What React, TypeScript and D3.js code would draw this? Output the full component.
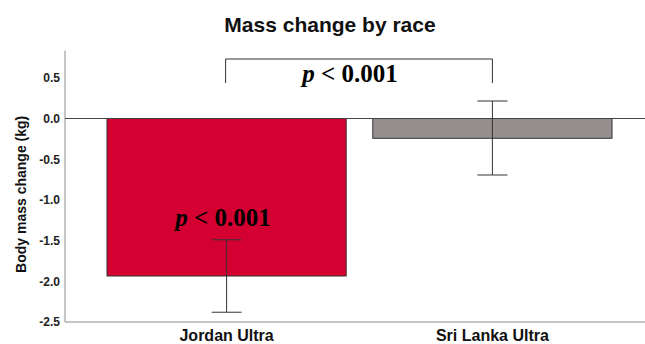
import * as d3 from "d3";
import { useEffect, useRef } from "react";

const races = ["Jordan Ultra", "Sri Lanka Ultra"];
const meanChange = [-1.935, -0.243];
const errUpper = [-1.49, 0.215];
const errLower = [-2.38, -0.694];
const yTicks = [0.5, 0.0, -0.5, -1.0, -1.5, -2.0, -2.5];
const barColors = ["#d50032", "#958f8f"];

const W = 645;
const H = 344;

export default function App() {
  const svgRef = useRef(null);

  useEffect(() => {
    const svg = d3.select(svgRef.current);
    svg.selectAll("*").remove();

    // SCALES
    const y = d3.scaleLinear().domain([-2.5, 0.833]).range([322, 50.7]);
    const x = d3
      .scaleBand()
      .domain(races)
      .range([65, 654])
      .paddingInner(0.1)
      .paddingOuter(0.158);

    // TITLE
    svg
      .append("text")
      .attr("x", 330)
      .attr("y", 32)
      .attr("text-anchor", "middle")
      .attr("font-family", "Liberation Sans, Arial, sans-serif")
      .attr("font-weight", "bold")
      .attr("font-size", 21)
      .attr("fill", "#111")
      .text("Mass change by race");

    // BARS
    svg
      .selectAll("rect.bar")
      .data(races)
      .enter()
      .append("rect")
      .attr("class", "bar")
      .attr("x", (d) => x(d))
      .attr("y", y(0))
      .attr("width", x.bandwidth())
      .attr("height", (d, i) => y(meanChange[i]) - y(0))
      .attr("fill", (d, i) => barColors[i])
      .attr("stroke", "#333")
      .attr("stroke-width", 1);

    // AXES (no tick marks)
    const fmt = (v) => d3.format(".1f")(v).replace("\u2212", "-");
    const axisY = svg.append("g").attr("transform", "translate(65,0)");
    axisY.call(d3.axisLeft(y).tickValues(yTicks).tickSize(0).tickPadding(5).tickFormat(fmt));
    axisY.select(".domain").attr("stroke", "#8c8c8c").attr("d", `M0,${y.range()[1]}V${y.range()[0]}`);
    axisY
      .selectAll("text")
      .attr("font-family", "Liberation Sans, Arial, sans-serif")
      .attr("font-weight", "bold")
      .attr("font-size", 12)
      .attr("fill", "#222");

    svg
      .append("line")
      .attr("x1", 65)
      .attr("x2", W)
      .attr("y1", y(-2.5))
      .attr("y2", y(-2.5))
      .attr("stroke", "#8c8c8c");

    // ZERO LINE
    svg
      .append("line")
      .attr("x1", 65)
      .attr("x2", W)
      .attr("y1", y(0))
      .attr("y2", y(0))
      .attr("stroke", "#444");

    // CATEGORY LABELS
    svg
      .selectAll("text.cat")
      .data(races)
      .enter()
      .append("text")
      .attr("class", "cat")
      .attr("x", (d) => x(d) + x.bandwidth() / 2)
      .attr("y", 341)
      .attr("text-anchor", "middle")
      .attr("font-family", "Liberation Sans, Arial, sans-serif")
      .attr("font-weight", "bold")
      .attr("font-size", 16)
      .attr("fill", "#111")
      .text((d) => d);

    // Y LABEL
    svg
      .append("text")
      .attr("transform", `translate(26,${(y.range()[0] + y.range()[1]) / 2 + 8}) rotate(-90)`)
      .attr("text-anchor", "middle")
      .attr("font-family", "Liberation Sans, Arial, sans-serif")
      .attr("font-weight", "bold")
      .attr("font-size", 14)
      .attr("fill", "#111")
      .text("Body mass change (kg)");

    // ERROR BARS
    const eb = svg.selectAll("g.err").data(races).enter().append("g").attr("class", "err");
    const cx = (d) => x(d) + x.bandwidth() / 2;
    eb.append("line")
      .attr("x1", cx)
      .attr("x2", cx)
      .attr("y1", (d, i) => y(errUpper[i]))
      .attr("y2", (d, i) => y(errLower[i]));
    eb.append("line")
      .attr("x1", (d) => cx(d) - 15)
      .attr("x2", (d) => cx(d) + 15)
      .attr("y1", (d, i) => y(errUpper[i]))
      .attr("y2", (d, i) => y(errUpper[i]));
    eb.append("line")
      .attr("x1", (d) => cx(d) - 15)
      .attr("x2", (d) => cx(d) + 15)
      .attr("y1", (d, i) => y(errLower[i]))
      .attr("y2", (d, i) => y(errLower[i]));
    eb.selectAll("line").attr("stroke", "#333").attr("stroke-width", 1);

    // SIGNIFICANCE BRACKET
    const x0 = cx(races[0]) - 1;
    const x1 = cx(races[1]);
    svg
      .append("path")
      .attr("d", `M${x0},83V59H${x1}V83`)
      .attr("fill", "none")
      .attr("stroke", "#333");

    const pText = (g, px, py) => {
      const t = g
        .append("text")
        .attr("x", px)
        .attr("y", py)
        .attr("text-anchor", "middle")
        .attr("font-family", "Liberation Serif, Times New Roman, serif")
        .attr("font-weight", "bold")
        .attr("font-size", 25)
        .attr("fill", "#000")
        .attr("xml:space", "preserve");
      t.append("tspan").attr("font-style", "italic").text("p");
      t.append("tspan").text(" < 0.001");
    };
    pText(svg, 350, 82);
    pText(svg, 223, 226);
  }, []);

  return (
    <svg
      ref={svgRef}
      width={W}
      height={H}
      style={{ position: "absolute", left: 0, top: 0, background: "#fff" }}
    />
  );
}
